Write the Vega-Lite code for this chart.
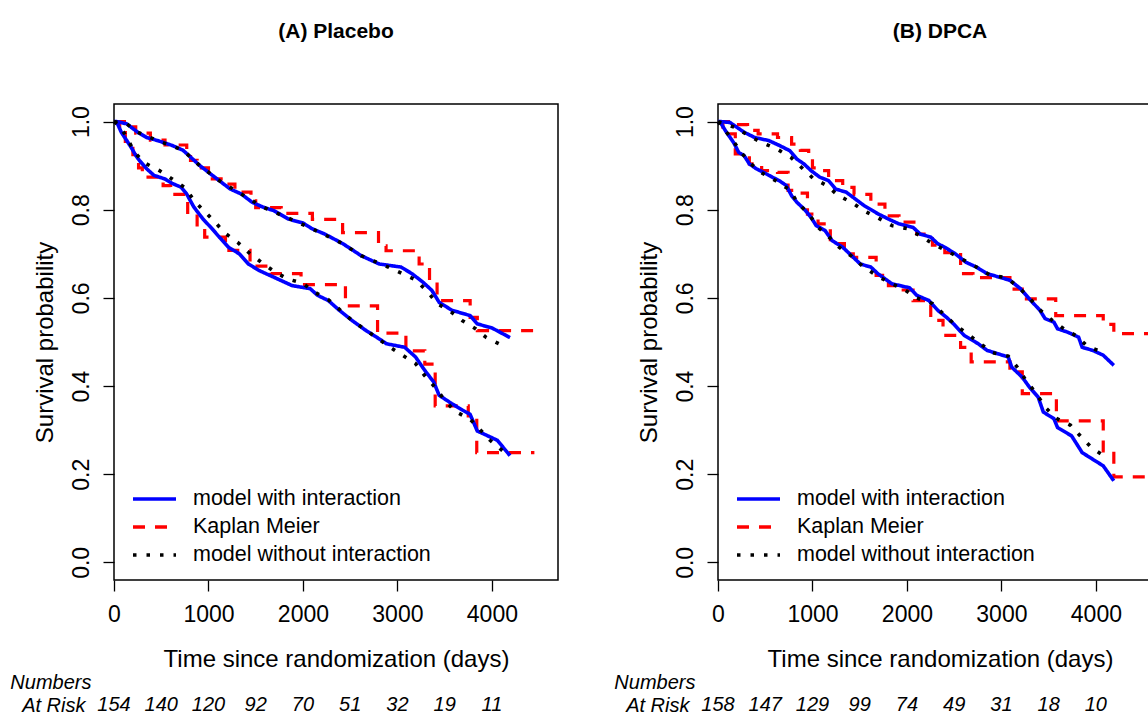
{
  "$schema": "https://vega.github.io/schema/vega-lite/v6.json",
  "padding": {"left": 9, "top": 20, "right": 0, "bottom": 0},
  "bounds": "flush",
  "align": "each",
  "columns": 2,
  "spacing": {"row": 115, "column": 160},
  "resolve": {
    "scale": {"color": "independent", "strokeDash": "independent"},
    "legend": {"color": "independent", "strokeDash": "independent"}
  },
  "config": {
    "font": "Liberation Sans",
    "view": {"stroke": "black", "strokeWidth": 1.5},
    "axis": {"grid": false, "domain": false, "tickColor": "black", "tickSize": 11, "tickWidth": 1.3,
      "labelColor": "black", "titleColor": "black", "labelFont": "Liberation Sans", "titleFont": "Liberation Sans",
      "labelFontSize": 23, "titleFontSize": 24, "titleFontWeight": "normal"},
    "legend": {"orient": "none", "legendX": 17, "legendY": 381, "symbolType": "stroke", "symbolSize": 1849,
      "symbolStrokeWidth": 3.5, "labelFontSize": 21.5, "labelFont": "Liberation Sans", "labelColor": "black",
      "labelOffset": 15, "rowPadding": 0, "clipHeight": 28, "padding": 0, "labelLimit": 500},
    "title": {"font": "Liberation Sans", "fontSize": 21, "fontWeight": "bold", "color": "black", "offset": 62, "anchor": "middle"}
  },
  "datasets": {
    "curves": [
      {"p":"A","g":1,"s":"model with interaction","t":0,"v":1},
      {"p":"A","g":1,"s":"model with interaction","t":31,"v":1},
      {"p":"A","g":1,"s":"model with interaction","t":135,"v":0.995},
      {"p":"A","g":1,"s":"model with interaction","t":250,"v":0.976},
      {"p":"A","g":1,"s":"model with interaction","t":346,"v":0.964},
      {"p":"A","g":1,"s":"model with interaction","t":462,"v":0.957},
      {"p":"A","g":1,"s":"model with interaction","t":615,"v":0.946},
      {"p":"A","g":1,"s":"model with interaction","t":731,"v":0.935},
      {"p":"A","g":1,"s":"model with interaction","t":808,"v":0.92},
      {"p":"A","g":1,"s":"model with interaction","t":904,"v":0.901},
      {"p":"A","g":1,"s":"model with interaction","t":1000,"v":0.885},
      {"p":"A","g":1,"s":"model with interaction","t":1115,"v":0.866},
      {"p":"A","g":1,"s":"model with interaction","t":1231,"v":0.847},
      {"p":"A","g":1,"s":"model with interaction","t":1346,"v":0.836},
      {"p":"A","g":1,"s":"model with interaction","t":1462,"v":0.817},
      {"p":"A","g":1,"s":"model with interaction","t":1577,"v":0.806},
      {"p":"A","g":1,"s":"model with interaction","t":1692,"v":0.798},
      {"p":"A","g":1,"s":"model with interaction","t":1846,"v":0.779},
      {"p":"A","g":1,"s":"model with interaction","t":2000,"v":0.77},
      {"p":"A","g":1,"s":"model with interaction","t":2096,"v":0.757},
      {"p":"A","g":1,"s":"model with interaction","t":2231,"v":0.745},
      {"p":"A","g":1,"s":"model with interaction","t":2423,"v":0.723},
      {"p":"A","g":1,"s":"model with interaction","t":2615,"v":0.696},
      {"p":"A","g":1,"s":"model with interaction","t":2808,"v":0.677},
      {"p":"A","g":1,"s":"model with interaction","t":3038,"v":0.67},
      {"p":"A","g":1,"s":"model with interaction","t":3154,"v":0.655},
      {"p":"A","g":1,"s":"model with interaction","t":3269,"v":0.636},
      {"p":"A","g":1,"s":"model with interaction","t":3365,"v":0.617},
      {"p":"A","g":1,"s":"model with interaction","t":3442,"v":0.59},
      {"p":"A","g":1,"s":"model with interaction","t":3577,"v":0.572},
      {"p":"A","g":1,"s":"model with interaction","t":3769,"v":0.56},
      {"p":"A","g":1,"s":"model with interaction","t":3846,"v":0.541},
      {"p":"A","g":1,"s":"model with interaction","t":4000,"v":0.532},
      {"p":"A","g":1,"s":"model with interaction","t":4192,"v":0.51},

      {"p":"A","g":1,"s":"Kaplan Meier","t":0,"v":1},
      {"p":"A","g":1,"s":"Kaplan Meier","t":190,"v":0.988},
      {"p":"A","g":1,"s":"Kaplan Meier","t":230,"v":0.974},
      {"p":"A","g":1,"s":"Kaplan Meier","t":385,"v":0.958},
      {"p":"A","g":1,"s":"Kaplan Meier","t":540,"v":0.947},
      {"p":"A","g":1,"s":"Kaplan Meier","t":770,"v":0.93},
      {"p":"A","g":1,"s":"Kaplan Meier","t":810,"v":0.912},
      {"p":"A","g":1,"s":"Kaplan Meier","t":880,"v":0.895},
      {"p":"A","g":1,"s":"Kaplan Meier","t":1000,"v":0.87},
      {"p":"A","g":1,"s":"Kaplan Meier","t":1200,"v":0.858},
      {"p":"A","g":1,"s":"Kaplan Meier","t":1280,"v":0.84},
      {"p":"A","g":1,"s":"Kaplan Meier","t":1450,"v":0.82},
      {"p":"A","g":1,"s":"Kaplan Meier","t":1500,"v":0.805},
      {"p":"A","g":1,"s":"Kaplan Meier","t":1770,"v":0.792},
      {"p":"A","g":1,"s":"Kaplan Meier","t":2100,"v":0.778},
      {"p":"A","g":1,"s":"Kaplan Meier","t":2420,"v":0.748},
      {"p":"A","g":1,"s":"Kaplan Meier","t":2800,"v":0.718},
      {"p":"A","g":1,"s":"Kaplan Meier","t":2880,"v":0.707},
      {"p":"A","g":1,"s":"Kaplan Meier","t":3230,"v":0.677},
      {"p":"A","g":1,"s":"Kaplan Meier","t":3340,"v":0.64},
      {"p":"A","g":1,"s":"Kaplan Meier","t":3420,"v":0.594},
      {"p":"A","g":1,"s":"Kaplan Meier","t":3770,"v":0.556},
      {"p":"A","g":1,"s":"Kaplan Meier","t":3846,"v":0.526},
      {"p":"A","g":1,"s":"Kaplan Meier","t":4540,"v":0.526},

      {"p":"A","g":1,"s":"model without interaction","t":0,"v":1},
      {"p":"A","g":1,"s":"model without interaction","t":135,"v":0.995},
      {"p":"A","g":1,"s":"model without interaction","t":250,"v":0.976},
      {"p":"A","g":1,"s":"model without interaction","t":462,"v":0.957},
      {"p":"A","g":1,"s":"model without interaction","t":731,"v":0.935},
      {"p":"A","g":1,"s":"model without interaction","t":904,"v":0.901},
      {"p":"A","g":1,"s":"model without interaction","t":1115,"v":0.866},
      {"p":"A","g":1,"s":"model without interaction","t":1346,"v":0.836},
      {"p":"A","g":1,"s":"model without interaction","t":1577,"v":0.806},
      {"p":"A","g":1,"s":"model without interaction","t":1846,"v":0.781},
      {"p":"A","g":1,"s":"model without interaction","t":2096,"v":0.757},
      {"p":"A","g":1,"s":"model without interaction","t":2423,"v":0.723},
      {"p":"A","g":1,"s":"model without interaction","t":2615,"v":0.696},
      {"p":"A","g":1,"s":"model without interaction","t":2904,"v":0.67},
      {"p":"A","g":1,"s":"model without interaction","t":3192,"v":0.641},
      {"p":"A","g":1,"s":"model without interaction","t":3315,"v":0.615},
      {"p":"A","g":1,"s":"model without interaction","t":3423,"v":0.587},
      {"p":"A","g":1,"s":"model without interaction","t":3558,"v":0.57},
      {"p":"A","g":1,"s":"model without interaction","t":3685,"v":0.549},
      {"p":"A","g":1,"s":"model without interaction","t":3827,"v":0.53},
      {"p":"A","g":1,"s":"model without interaction","t":3942,"v":0.51},
      {"p":"A","g":1,"s":"model without interaction","t":4096,"v":0.494},

      {"p":"A","g":2,"s":"model with interaction","t":0,"v":1},
      {"p":"A","g":2,"s":"model with interaction","t":31,"v":0.998},
      {"p":"A","g":2,"s":"model with interaction","t":77,"v":0.976},
      {"p":"A","g":2,"s":"model with interaction","t":135,"v":0.957},
      {"p":"A","g":2,"s":"model with interaction","t":192,"v":0.938},
      {"p":"A","g":2,"s":"model with interaction","t":231,"v":0.923},
      {"p":"A","g":2,"s":"model with interaction","t":269,"v":0.912},
      {"p":"A","g":2,"s":"model with interaction","t":346,"v":0.893},
      {"p":"A","g":2,"s":"model with interaction","t":423,"v":0.878},
      {"p":"A","g":2,"s":"model with interaction","t":538,"v":0.87},
      {"p":"A","g":2,"s":"model with interaction","t":615,"v":0.86},
      {"p":"A","g":2,"s":"model with interaction","t":712,"v":0.851},
      {"p":"A","g":2,"s":"model with interaction","t":769,"v":0.836},
      {"p":"A","g":2,"s":"model with interaction","t":846,"v":0.806},
      {"p":"A","g":2,"s":"model with interaction","t":942,"v":0.779},
      {"p":"A","g":2,"s":"model with interaction","t":1038,"v":0.757},
      {"p":"A","g":2,"s":"model with interaction","t":1115,"v":0.738},
      {"p":"A","g":2,"s":"model with interaction","t":1212,"v":0.715},
      {"p":"A","g":2,"s":"model with interaction","t":1327,"v":0.7},
      {"p":"A","g":2,"s":"model with interaction","t":1423,"v":0.677},
      {"p":"A","g":2,"s":"model with interaction","t":1538,"v":0.662},
      {"p":"A","g":2,"s":"model with interaction","t":1692,"v":0.647},
      {"p":"A","g":2,"s":"model with interaction","t":1885,"v":0.628},
      {"p":"A","g":2,"s":"model with interaction","t":2077,"v":0.621},
      {"p":"A","g":2,"s":"model with interaction","t":2154,"v":0.606},
      {"p":"A","g":2,"s":"model with interaction","t":2269,"v":0.594},
      {"p":"A","g":2,"s":"model with interaction","t":2385,"v":0.572},
      {"p":"A","g":2,"s":"model with interaction","t":2519,"v":0.549},
      {"p":"A","g":2,"s":"model with interaction","t":2654,"v":0.528},
      {"p":"A","g":2,"s":"model with interaction","t":2808,"v":0.507},
      {"p":"A","g":2,"s":"model with interaction","t":2885,"v":0.496},
      {"p":"A","g":2,"s":"model with interaction","t":3077,"v":0.488},
      {"p":"A","g":2,"s":"model with interaction","t":3192,"v":0.466},
      {"p":"A","g":2,"s":"model with interaction","t":3288,"v":0.436},
      {"p":"A","g":2,"s":"model with interaction","t":3385,"v":0.409},
      {"p":"A","g":2,"s":"model with interaction","t":3442,"v":0.379},
      {"p":"A","g":2,"s":"model with interaction","t":3577,"v":0.36},
      {"p":"A","g":2,"s":"model with interaction","t":3692,"v":0.345},
      {"p":"A","g":2,"s":"model with interaction","t":3769,"v":0.336},
      {"p":"A","g":2,"s":"model with interaction","t":3846,"v":0.298},
      {"p":"A","g":2,"s":"model with interaction","t":4058,"v":0.277},
      {"p":"A","g":2,"s":"model with interaction","t":4192,"v":0.242},

      {"p":"A","g":2,"s":"Kaplan Meier","t":0,"v":1},
      {"p":"A","g":2,"s":"Kaplan Meier","t":60,"v":0.975},
      {"p":"A","g":2,"s":"Kaplan Meier","t":120,"v":0.955},
      {"p":"A","g":2,"s":"Kaplan Meier","t":200,"v":0.925},
      {"p":"A","g":2,"s":"Kaplan Meier","t":260,"v":0.895},
      {"p":"A","g":2,"s":"Kaplan Meier","t":300,"v":0.874},
      {"p":"A","g":2,"s":"Kaplan Meier","t":520,"v":0.855},
      {"p":"A","g":2,"s":"Kaplan Meier","t":600,"v":0.835},
      {"p":"A","g":2,"s":"Kaplan Meier","t":780,"v":0.79},
      {"p":"A","g":2,"s":"Kaplan Meier","t":880,"v":0.76},
      {"p":"A","g":2,"s":"Kaplan Meier","t":960,"v":0.738},
      {"p":"A","g":2,"s":"Kaplan Meier","t":1180,"v":0.708},
      {"p":"A","g":2,"s":"Kaplan Meier","t":1440,"v":0.672},
      {"p":"A","g":2,"s":"Kaplan Meier","t":1660,"v":0.655},
      {"p":"A","g":2,"s":"Kaplan Meier","t":1980,"v":0.63},
      {"p":"A","g":2,"s":"Kaplan Meier","t":2450,"v":0.582},
      {"p":"A","g":2,"s":"Kaplan Meier","t":2790,"v":0.52},
      {"p":"A","g":2,"s":"Kaplan Meier","t":3090,"v":0.48},
      {"p":"A","g":2,"s":"Kaplan Meier","t":3290,"v":0.45},
      {"p":"A","g":2,"s":"Kaplan Meier","t":3400,"v":0.355},
      {"p":"A","g":2,"s":"Kaplan Meier","t":3750,"v":0.322},
      {"p":"A","g":2,"s":"Kaplan Meier","t":3840,"v":0.249},
      {"p":"A","g":2,"s":"Kaplan Meier","t":4450,"v":0.249},

      {"p":"A","g":2,"s":"model without interaction","t":0,"v":1},
      {"p":"A","g":2,"s":"model without interaction","t":31,"v":0.995},
      {"p":"A","g":2,"s":"model without interaction","t":115,"v":0.972},
      {"p":"A","g":2,"s":"model without interaction","t":219,"v":0.93},
      {"p":"A","g":2,"s":"model without interaction","t":327,"v":0.906},
      {"p":"A","g":2,"s":"model without interaction","t":481,"v":0.889},
      {"p":"A","g":2,"s":"model without interaction","t":615,"v":0.87},
      {"p":"A","g":2,"s":"model without interaction","t":758,"v":0.849},
      {"p":"A","g":2,"s":"model without interaction","t":846,"v":0.821},
      {"p":"A","g":2,"s":"model without interaction","t":969,"v":0.794},
      {"p":"A","g":2,"s":"model without interaction","t":1077,"v":0.77},
      {"p":"A","g":2,"s":"model without interaction","t":1181,"v":0.746},
      {"p":"A","g":2,"s":"model without interaction","t":1315,"v":0.725},
      {"p":"A","g":2,"s":"model without interaction","t":1431,"v":0.702},
      {"p":"A","g":2,"s":"model without interaction","t":1558,"v":0.681},
      {"p":"A","g":2,"s":"model without interaction","t":1685,"v":0.662},
      {"p":"A","g":2,"s":"model without interaction","t":1835,"v":0.643},
      {"p":"A","g":2,"s":"model without interaction","t":1992,"v":0.634},
      {"p":"A","g":2,"s":"model without interaction","t":2123,"v":0.613},
      {"p":"A","g":2,"s":"model without interaction","t":2269,"v":0.596},
      {"p":"A","g":2,"s":"model without interaction","t":2519,"v":0.549},
      {"p":"A","g":2,"s":"model without interaction","t":2923,"v":0.488},
      {"p":"A","g":2,"s":"model without interaction","t":3192,"v":0.451},
      {"p":"A","g":2,"s":"model without interaction","t":3288,"v":0.424},
      {"p":"A","g":2,"s":"model without interaction","t":3404,"v":0.396},
      {"p":"A","g":2,"s":"model without interaction","t":3500,"v":0.368},
      {"p":"A","g":2,"s":"model without interaction","t":3608,"v":0.343},
      {"p":"A","g":2,"s":"model without interaction","t":3769,"v":0.325},
      {"p":"A","g":2,"s":"model without interaction","t":3981,"v":0.277},
      {"p":"A","g":2,"s":"model without interaction","t":4115,"v":0.253},

      {"p":"B","g":1,"s":"model with interaction","t":0,"v":1},
      {"p":"B","g":1,"s":"model with interaction","t":34,"v":1},
      {"p":"B","g":1,"s":"model with interaction","t":127,"v":0.998},
      {"p":"B","g":1,"s":"model with interaction","t":201,"v":0.987},
      {"p":"B","g":1,"s":"model with interaction","t":276,"v":0.976},
      {"p":"B","g":1,"s":"model with interaction","t":388,"v":0.964},
      {"p":"B","g":1,"s":"model with interaction","t":537,"v":0.957},
      {"p":"B","g":1,"s":"model with interaction","t":649,"v":0.946},
      {"p":"B","g":1,"s":"model with interaction","t":760,"v":0.934},
      {"p":"B","g":1,"s":"model with interaction","t":835,"v":0.915},
      {"p":"B","g":1,"s":"model with interaction","t":910,"v":0.904},
      {"p":"B","g":1,"s":"model with interaction","t":984,"v":0.889},
      {"p":"B","g":1,"s":"model with interaction","t":1077,"v":0.874},
      {"p":"B","g":1,"s":"model with interaction","t":1171,"v":0.866},
      {"p":"B","g":1,"s":"model with interaction","t":1245,"v":0.847},
      {"p":"B","g":1,"s":"model with interaction","t":1357,"v":0.84},
      {"p":"B","g":1,"s":"model with interaction","t":1431,"v":0.828},
      {"p":"B","g":1,"s":"model with interaction","t":1543,"v":0.81},
      {"p":"B","g":1,"s":"model with interaction","t":1692,"v":0.791},
      {"p":"B","g":1,"s":"model with interaction","t":1804,"v":0.779},
      {"p":"B","g":1,"s":"model with interaction","t":1916,"v":0.768},
      {"p":"B","g":1,"s":"model with interaction","t":2065,"v":0.76},
      {"p":"B","g":1,"s":"model with interaction","t":2140,"v":0.745},
      {"p":"B","g":1,"s":"model with interaction","t":2252,"v":0.738},
      {"p":"B","g":1,"s":"model with interaction","t":2326,"v":0.723},
      {"p":"B","g":1,"s":"model with interaction","t":2401,"v":0.715},
      {"p":"B","g":1,"s":"model with interaction","t":2513,"v":0.7},
      {"p":"B","g":1,"s":"model with interaction","t":2624,"v":0.681},
      {"p":"B","g":1,"s":"model with interaction","t":2736,"v":0.67},
      {"p":"B","g":1,"s":"model with interaction","t":2848,"v":0.655},
      {"p":"B","g":1,"s":"model with interaction","t":2997,"v":0.646},
      {"p":"B","g":1,"s":"model with interaction","t":3090,"v":0.64},
      {"p":"B","g":1,"s":"model with interaction","t":3202,"v":0.621},
      {"p":"B","g":1,"s":"model with interaction","t":3295,"v":0.598},
      {"p":"B","g":1,"s":"model with interaction","t":3407,"v":0.572},
      {"p":"B","g":1,"s":"model with interaction","t":3463,"v":0.553},
      {"p":"B","g":1,"s":"model with interaction","t":3556,"v":0.545},
      {"p":"B","g":1,"s":"model with interaction","t":3594,"v":0.53},
      {"p":"B","g":1,"s":"model with interaction","t":3705,"v":0.522},
      {"p":"B","g":1,"s":"model with interaction","t":3817,"v":0.511},
      {"p":"B","g":1,"s":"model with interaction","t":3855,"v":0.488},
      {"p":"B","g":1,"s":"model with interaction","t":3966,"v":0.481},
      {"p":"B","g":1,"s":"model with interaction","t":4078,"v":0.47},
      {"p":"B","g":1,"s":"model with interaction","t":4190,"v":0.447},

      {"p":"B","g":1,"s":"Kaplan Meier","t":0,"v":1},
      {"p":"B","g":1,"s":"Kaplan Meier","t":183,"v":0.993},
      {"p":"B","g":1,"s":"Kaplan Meier","t":313,"v":0.98},
      {"p":"B","g":1,"s":"Kaplan Meier","t":425,"v":0.972},
      {"p":"B","g":1,"s":"Kaplan Meier","t":630,"v":0.964},
      {"p":"B","g":1,"s":"Kaplan Meier","t":779,"v":0.949},
      {"p":"B","g":1,"s":"Kaplan Meier","t":872,"v":0.935},
      {"p":"B","g":1,"s":"Kaplan Meier","t":960,"v":0.915},
      {"p":"B","g":1,"s":"Kaplan Meier","t":1000,"v":0.895},
      {"p":"B","g":1,"s":"Kaplan Meier","t":1059,"v":0.889},
      {"p":"B","g":1,"s":"Kaplan Meier","t":1171,"v":0.866},
      {"p":"B","g":1,"s":"Kaplan Meier","t":1320,"v":0.851},
      {"p":"B","g":1,"s":"Kaplan Meier","t":1440,"v":0.835},
      {"p":"B","g":1,"s":"Kaplan Meier","t":1618,"v":0.813},
      {"p":"B","g":1,"s":"Kaplan Meier","t":1767,"v":0.786},
      {"p":"B","g":1,"s":"Kaplan Meier","t":1916,"v":0.772},
      {"p":"B","g":1,"s":"Kaplan Meier","t":2103,"v":0.745},
      {"p":"B","g":1,"s":"Kaplan Meier","t":2270,"v":0.72},
      {"p":"B","g":1,"s":"Kaplan Meier","t":2401,"v":0.703},
      {"p":"B","g":1,"s":"Kaplan Meier","t":2568,"v":0.655},
      {"p":"B","g":1,"s":"Kaplan Meier","t":2699,"v":0.646},
      {"p":"B","g":1,"s":"Kaplan Meier","t":3090,"v":0.62},
      {"p":"B","g":1,"s":"Kaplan Meier","t":3221,"v":0.598},
      {"p":"B","g":1,"s":"Kaplan Meier","t":3575,"v":0.56},
      {"p":"B","g":1,"s":"Kaplan Meier","t":4078,"v":0.54},
      {"p":"B","g":1,"s":"Kaplan Meier","t":4190,"v":0.519},
      {"p":"B","g":1,"s":"Kaplan Meier","t":4600,"v":0.519},

      {"p":"B","g":1,"s":"model without interaction","t":0,"v":1},
      {"p":"B","g":1,"s":"model without interaction","t":194,"v":0.986},
      {"p":"B","g":1,"s":"model without interaction","t":332,"v":0.967},
      {"p":"B","g":1,"s":"model without interaction","t":470,"v":0.952},
      {"p":"B","g":1,"s":"model without interaction","t":623,"v":0.938},
      {"p":"B","g":1,"s":"model without interaction","t":772,"v":0.919},
      {"p":"B","g":1,"s":"model without interaction","t":884,"v":0.896},
      {"p":"B","g":1,"s":"model without interaction","t":1003,"v":0.872},
      {"p":"B","g":1,"s":"model without interaction","t":1144,"v":0.856},
      {"p":"B","g":1,"s":"model without interaction","t":1275,"v":0.832},
      {"p":"B","g":1,"s":"model without interaction","t":1413,"v":0.817},
      {"p":"B","g":1,"s":"model without interaction","t":1551,"v":0.797},
      {"p":"B","g":1,"s":"model without interaction","t":1692,"v":0.782},
      {"p":"B","g":1,"s":"model without interaction","t":1842,"v":0.764},
      {"p":"B","g":1,"s":"model without interaction","t":2009,"v":0.757},
      {"p":"B","g":1,"s":"model without interaction","t":2147,"v":0.74},
      {"p":"B","g":1,"s":"model without interaction","t":2289,"v":0.721},
      {"p":"B","g":1,"s":"model without interaction","t":2438,"v":0.705},
      {"p":"B","g":1,"s":"model without interaction","t":2736,"v":0.67},
      {"p":"B","g":1,"s":"model without interaction","t":2878,"v":0.652},
      {"p":"B","g":1,"s":"model without interaction","t":3053,"v":0.646},
      {"p":"B","g":1,"s":"model without interaction","t":3184,"v":0.624},
      {"p":"B","g":1,"s":"model without interaction","t":3295,"v":0.6},
      {"p":"B","g":1,"s":"model without interaction","t":3407,"v":0.573},
      {"p":"B","g":1,"s":"model without interaction","t":3538,"v":0.549},
      {"p":"B","g":1,"s":"model without interaction","t":3661,"v":0.53},
      {"p":"B","g":1,"s":"model without interaction","t":3799,"v":0.513},
      {"p":"B","g":1,"s":"model without interaction","t":3911,"v":0.49},
      {"p":"B","g":1,"s":"model without interaction","t":4078,"v":0.476},

      {"p":"B","g":2,"s":"model with interaction","t":0,"v":1},
      {"p":"B","g":2,"s":"model with interaction","t":34,"v":0.995},
      {"p":"B","g":2,"s":"model with interaction","t":89,"v":0.976},
      {"p":"B","g":2,"s":"model with interaction","t":164,"v":0.953},
      {"p":"B","g":2,"s":"model with interaction","t":220,"v":0.93},
      {"p":"B","g":2,"s":"model with interaction","t":276,"v":0.923},
      {"p":"B","g":2,"s":"model with interaction","t":332,"v":0.904},
      {"p":"B","g":2,"s":"model with interaction","t":406,"v":0.893},
      {"p":"B","g":2,"s":"model with interaction","t":481,"v":0.885},
      {"p":"B","g":2,"s":"model with interaction","t":574,"v":0.874},
      {"p":"B","g":2,"s":"model with interaction","t":649,"v":0.866},
      {"p":"B","g":2,"s":"model with interaction","t":723,"v":0.855},
      {"p":"B","g":2,"s":"model with interaction","t":779,"v":0.832},
      {"p":"B","g":2,"s":"model with interaction","t":835,"v":0.817},
      {"p":"B","g":2,"s":"model with interaction","t":910,"v":0.802},
      {"p":"B","g":2,"s":"model with interaction","t":984,"v":0.783},
      {"p":"B","g":2,"s":"model with interaction","t":1040,"v":0.764},
      {"p":"B","g":2,"s":"model with interaction","t":1133,"v":0.753},
      {"p":"B","g":2,"s":"model with interaction","t":1208,"v":0.73},
      {"p":"B","g":2,"s":"model with interaction","t":1320,"v":0.715},
      {"p":"B","g":2,"s":"model with interaction","t":1394,"v":0.7},
      {"p":"B","g":2,"s":"model with interaction","t":1506,"v":0.677},
      {"p":"B","g":2,"s":"model with interaction","t":1618,"v":0.67},
      {"p":"B","g":2,"s":"model with interaction","t":1692,"v":0.655},
      {"p":"B","g":2,"s":"model with interaction","t":1842,"v":0.632},
      {"p":"B","g":2,"s":"model with interaction","t":2028,"v":0.623},
      {"p":"B","g":2,"s":"model with interaction","t":2103,"v":0.606},
      {"p":"B","g":2,"s":"model with interaction","t":2233,"v":0.594},
      {"p":"B","g":2,"s":"model with interaction","t":2326,"v":0.572},
      {"p":"B","g":2,"s":"model with interaction","t":2419,"v":0.556},
      {"p":"B","g":2,"s":"model with interaction","t":2494,"v":0.541},
      {"p":"B","g":2,"s":"model with interaction","t":2606,"v":0.515},
      {"p":"B","g":2,"s":"model with interaction","t":2755,"v":0.496},
      {"p":"B","g":2,"s":"model with interaction","t":2848,"v":0.481},
      {"p":"B","g":2,"s":"model with interaction","t":3072,"v":0.466},
      {"p":"B","g":2,"s":"model with interaction","t":3109,"v":0.443},
      {"p":"B","g":2,"s":"model with interaction","t":3221,"v":0.42},
      {"p":"B","g":2,"s":"model with interaction","t":3295,"v":0.398},
      {"p":"B","g":2,"s":"model with interaction","t":3389,"v":0.375},
      {"p":"B","g":2,"s":"model with interaction","t":3444,"v":0.341},
      {"p":"B","g":2,"s":"model with interaction","t":3556,"v":0.326},
      {"p":"B","g":2,"s":"model with interaction","t":3594,"v":0.306},
      {"p":"B","g":2,"s":"model with interaction","t":3743,"v":0.287},
      {"p":"B","g":2,"s":"model with interaction","t":3855,"v":0.249},
      {"p":"B","g":2,"s":"model with interaction","t":3966,"v":0.234},
      {"p":"B","g":2,"s":"model with interaction","t":4078,"v":0.219},
      {"p":"B","g":2,"s":"model with interaction","t":4190,"v":0.185},

      {"p":"B","g":2,"s":"Kaplan Meier","t":0,"v":1},
      {"p":"B","g":2,"s":"Kaplan Meier","t":52,"v":0.972},
      {"p":"B","g":2,"s":"Kaplan Meier","t":183,"v":0.927},
      {"p":"B","g":2,"s":"Kaplan Meier","t":332,"v":0.904},
      {"p":"B","g":2,"s":"Kaplan Meier","t":462,"v":0.889},
      {"p":"B","g":2,"s":"Kaplan Meier","t":630,"v":0.885},
      {"p":"B","g":2,"s":"Kaplan Meier","t":742,"v":0.844},
      {"p":"B","g":2,"s":"Kaplan Meier","t":798,"v":0.838},
      {"p":"B","g":2,"s":"Kaplan Meier","t":947,"v":0.79},
      {"p":"B","g":2,"s":"Kaplan Meier","t":1059,"v":0.768},
      {"p":"B","g":2,"s":"Kaplan Meier","t":1189,"v":0.723},
      {"p":"B","g":2,"s":"Kaplan Meier","t":1338,"v":0.7},
      {"p":"B","g":2,"s":"Kaplan Meier","t":1432,"v":0.692},
      {"p":"B","g":2,"s":"Kaplan Meier","t":1674,"v":0.651},
      {"p":"B","g":2,"s":"Kaplan Meier","t":1804,"v":0.628},
      {"p":"B","g":2,"s":"Kaplan Meier","t":1935,"v":0.618},
      {"p":"B","g":2,"s":"Kaplan Meier","t":2065,"v":0.594},
      {"p":"B","g":2,"s":"Kaplan Meier","t":2252,"v":0.549},
      {"p":"B","g":2,"s":"Kaplan Meier","t":2382,"v":0.515},
      {"p":"B","g":2,"s":"Kaplan Meier","t":2568,"v":0.488},
      {"p":"B","g":2,"s":"Kaplan Meier","t":2680,"v":0.455},
      {"p":"B","g":2,"s":"Kaplan Meier","t":3090,"v":0.432},
      {"p":"B","g":2,"s":"Kaplan Meier","t":3221,"v":0.383},
      {"p":"B","g":2,"s":"Kaplan Meier","t":3582,"v":0.321},
      {"p":"B","g":2,"s":"Kaplan Meier","t":4078,"v":0.253},
      {"p":"B","g":2,"s":"Kaplan Meier","t":4190,"v":0.194},
      {"p":"B","g":2,"s":"Kaplan Meier","t":4600,"v":0.194},

      {"p":"B","g":2,"s":"model without interaction","t":0,"v":1},
      {"p":"B","g":2,"s":"model without interaction","t":145,"v":0.961},
      {"p":"B","g":2,"s":"model without interaction","t":257,"v":0.927},
      {"p":"B","g":2,"s":"model without interaction","t":350,"v":0.904},
      {"p":"B","g":2,"s":"model without interaction","t":470,"v":0.883},
      {"p":"B","g":2,"s":"model without interaction","t":611,"v":0.866},
      {"p":"B","g":2,"s":"model without interaction","t":760,"v":0.845},
      {"p":"B","g":2,"s":"model without interaction","t":842,"v":0.816},
      {"p":"B","g":2,"s":"model without interaction","t":966,"v":0.789},
      {"p":"B","g":2,"s":"model without interaction","t":1059,"v":0.76},
      {"p":"B","g":2,"s":"model without interaction","t":1171,"v":0.739},
      {"p":"B","g":2,"s":"model without interaction","t":1282,"v":0.715},
      {"p":"B","g":2,"s":"model without interaction","t":1413,"v":0.695},
      {"p":"B","g":2,"s":"model without interaction","t":1536,"v":0.671},
      {"p":"B","g":2,"s":"model without interaction","t":1692,"v":0.649},
      {"p":"B","g":2,"s":"model without interaction","t":1823,"v":0.634},
      {"p":"B","g":2,"s":"model without interaction","t":1972,"v":0.619},
      {"p":"B","g":2,"s":"model without interaction","t":2103,"v":0.6},
      {"p":"B","g":2,"s":"model without interaction","t":2270,"v":0.587},
      {"p":"B","g":2,"s":"model without interaction","t":2505,"v":0.54},
      {"p":"B","g":2,"s":"model without interaction","t":2904,"v":0.476},
      {"p":"B","g":2,"s":"model without interaction","t":3072,"v":0.468},
      {"p":"B","g":2,"s":"model without interaction","t":3172,"v":0.442},
      {"p":"B","g":2,"s":"model without interaction","t":3266,"v":0.411},
      {"p":"B","g":2,"s":"model without interaction","t":3370,"v":0.383},
      {"p":"B","g":2,"s":"model without interaction","t":3463,"v":0.352},
      {"p":"B","g":2,"s":"model without interaction","t":3582,"v":0.327},
      {"p":"B","g":2,"s":"model without interaction","t":3732,"v":0.311},
      {"p":"B","g":2,"s":"model without interaction","t":3843,"v":0.285},
      {"p":"B","g":2,"s":"model without interaction","t":3955,"v":0.26},
      {"p":"B","g":2,"s":"model without interaction","t":4097,"v":0.24}
    ],
    "risk": [
      {"p":"A","row":"At Risk","t":0,"n":154},
      {"p":"A","row":"At Risk","t":500,"n":140},
      {"p":"A","row":"At Risk","t":1000,"n":120},
      {"p":"A","row":"At Risk","t":1500,"n":92},
      {"p":"A","row":"At Risk","t":2000,"n":70},
      {"p":"A","row":"At Risk","t":2500,"n":51},
      {"p":"A","row":"At Risk","t":3000,"n":32},
      {"p":"A","row":"At Risk","t":3500,"n":19},
      {"p":"A","row":"At Risk","t":4000,"n":11},
      {"p":"B","row":"At Risk","t":0,"n":158},
      {"p":"B","row":"At Risk","t":500,"n":147},
      {"p":"B","row":"At Risk","t":1000,"n":129},
      {"p":"B","row":"At Risk","t":1500,"n":99},
      {"p":"B","row":"At Risk","t":2000,"n":74},
      {"p":"B","row":"At Risk","t":2500,"n":49},
      {"p":"B","row":"At Risk","t":3000,"n":31},
      {"p":"B","row":"At Risk","t":3500,"n":18},
      {"p":"B","row":"At Risk","t":4000,"n":10}
    ]
  },
  "concat": [
    {
      "width": 444, "height": 476,
      "title": {"text": "(A) Placebo"},
      "data": {"name": "curves"},
      "transform": [{"filter": "datum.p == 'A'"}],
      "encoding": {
        "x": {"field": "t", "type": "quantitative", "scale": {"domain": [0, 4700], "nice": false, "zero": false},
          "axis": {"values": [0, 1000, 2000, 3000, 4000], "format": "d", "title": "Time since randomization (days)", "labelPadding": 12, "titlePadding": 21, "labelFlush": false, "labelOverlap": false}},
        "y": {"field": "v", "type": "quantitative", "scale": {"domain": [-0.04, 1.04], "nice": false, "zero": false},
          "axis": {"values": [0, 0.2, 0.4, 0.6, 0.8, 1], "format": ".1f", "title": "Survival probability", "labelAngle": -90, "labelAlign": "center", "labelBaseline": "bottom", "labelPadding": 10, "titlePadding": 13}},
        "color": {"field": "s", "type": "nominal", "scale": {"domain": ["model with interaction", "Kaplan Meier", "model without interaction"], "range": ["#0000ff", "#ff0000", "#000000"]}, "legend": {"title": null}},
        "strokeDash": {"field": "s", "type": "nominal", "scale": {"domain": ["model with interaction", "Kaplan Meier", "model without interaction"], "range": [[1, 0], [12, 10], [3.5, 10]]}, "legend": {"title": null}},
        "detail": {"field": "g", "type": "nominal"}
      },
      "layer": [
        {"transform": [{"filter": "datum.s == 'Kaplan Meier'"}], "mark": {"type": "line", "interpolate": "step-after", "strokeWidth": 3.2}},
        {"transform": [{"filter": "datum.s == 'model with interaction'"}], "mark": {"type": "line", "strokeWidth": 3.6}},
        {"transform": [{"filter": "datum.s == 'model without interaction'"}], "mark": {"type": "line", "strokeWidth": 3.6}}
      ]
    },
    {
      "width": 444, "height": 476,
      "title": {"text": "(B) DPCA"},
      "data": {"name": "curves"},
      "transform": [{"filter": "datum.p == 'B'"}],
      "encoding": {
        "x": {"field": "t", "type": "quantitative", "scale": {"domain": [0, 4700], "nice": false, "zero": false},
          "axis": {"values": [0, 1000, 2000, 3000, 4000], "format": "d", "title": "Time since randomization (days)", "labelPadding": 12, "titlePadding": 21, "labelFlush": false, "labelOverlap": false}},
        "y": {"field": "v", "type": "quantitative", "scale": {"domain": [-0.04, 1.04], "nice": false, "zero": false},
          "axis": {"values": [0, 0.2, 0.4, 0.6, 0.8, 1], "format": ".1f", "title": "Survival probability", "labelAngle": -90, "labelAlign": "center", "labelBaseline": "bottom", "labelPadding": 10, "titlePadding": 13}},
        "color": {"field": "s", "type": "nominal", "scale": {"domain": ["model with interaction", "Kaplan Meier", "model without interaction"], "range": ["#0000ff", "#ff0000", "#000000"]}, "legend": {"title": null}},
        "strokeDash": {"field": "s", "type": "nominal", "scale": {"domain": ["model with interaction", "Kaplan Meier", "model without interaction"], "range": [[1, 0], [12, 10], [3.5, 10]]}, "legend": {"title": null}},
        "detail": {"field": "g", "type": "nominal"}
      },
      "layer": [
        {"transform": [{"filter": "datum.s == 'Kaplan Meier'"}], "mark": {"type": "line", "interpolate": "step-after", "strokeWidth": 3.2}},
        {"transform": [{"filter": "datum.s == 'model with interaction'"}], "mark": {"type": "line", "strokeWidth": 3.6}},
        {"transform": [{"filter": "datum.s == 'model without interaction'"}], "mark": {"type": "line", "strokeWidth": 3.6}}
      ]
    },
    {
      "width": 444, "height": 20,
      "view": {"stroke": null},
      "data": {"name": "risk"},
      "transform": [{"filter": "datum.p == 'A'"}],
      "mark": {"type": "text", "fontSize": 20, "fontStyle": "italic", "font": "Liberation Sans", "baseline": "middle", "color": "black"},
      "encoding": {
        "x": {"field": "t", "type": "quantitative", "scale": {"domain": [0, 4700], "nice": false, "zero": false}, "axis": null},
        "y": {"field": "row", "type": "nominal", "axis": {"title": "Numbers", "titleAngle": 0, "titleAlign": "right", "titleBaseline": "middle", "titleX": -23, "titleY": -13, "titleFontStyle": "italic", "titleFontSize": 20, "labelFontSize": 20, "labelFontStyle": "italic", "labelAngle": 0, "labelAlign": "right", "labelBaseline": "middle", "labelPadding": 29, "ticks": false, "tickSize": 0, "domain": false}},
        "text": {"field": "n", "type": "quantitative"}
      }
    },
    {
      "width": 444, "height": 20,
      "view": {"stroke": null},
      "data": {"name": "risk"},
      "transform": [{"filter": "datum.p == 'B'"}],
      "mark": {"type": "text", "fontSize": 20, "fontStyle": "italic", "font": "Liberation Sans", "baseline": "middle", "color": "black"},
      "encoding": {
        "x": {"field": "t", "type": "quantitative", "scale": {"domain": [0, 4700], "nice": false, "zero": false}, "axis": null},
        "y": {"field": "row", "type": "nominal", "axis": {"title": "Numbers", "titleAngle": 0, "titleAlign": "right", "titleBaseline": "middle", "titleX": -23, "titleY": -13, "titleFontStyle": "italic", "titleFontSize": 20, "labelFontSize": 20, "labelFontStyle": "italic", "labelAngle": 0, "labelAlign": "right", "labelBaseline": "middle", "labelPadding": 29, "ticks": false, "tickSize": 0, "domain": false}},
        "text": {"field": "n", "type": "quantitative"}
      }
    }
  ]
}
